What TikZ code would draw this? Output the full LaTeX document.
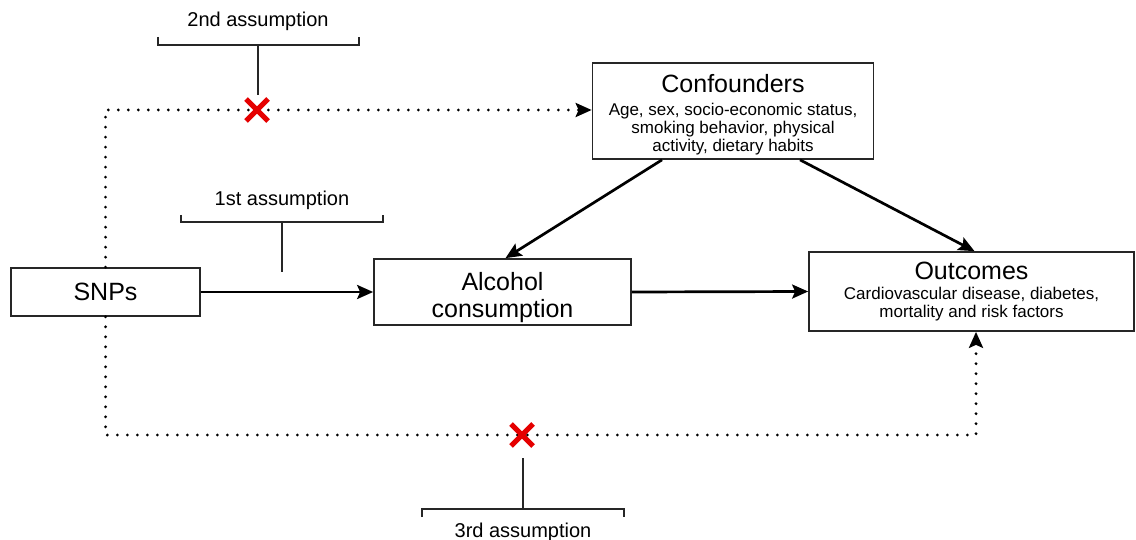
\documentclass[tikz,border=0pt]{standalone}
\usepackage{fontspec}
\setmainfont{Liberation Sans}
\usetikzlibrary{arrows.meta,shapes.misc}
\begin{document}
\begin{tikzpicture}[x=1pt,y=-1pt,
  box/.style={draw=black!85, line width=1.7pt, align=center, inner sep=0pt},
  arr/.style={line width=2.7pt, -{Stealth[length=16pt,width=14pt,inset=3pt]}},
  dotline/.style={line width=3.2pt, line cap=round, dash pattern=on 0pt off 10pt, -{Stealth[length=16pt,width=14pt,inset=3pt,sep=0pt]}},
  brk/.style={line width=2pt, draw=black!85},
  lbl/.style={font=\fontsize{20}{22}\selectfont, inner sep=0pt},
  xmark/.style={cross out, draw=red!90!black, line width=5pt, minimum size=17pt, inner sep=0pt}
]
\useasboundingbox (0,0) rectangle (1136,540);

% boxes
\node[box, minimum width=189pt, minimum height=48pt, font=\fontsize{25}{28}\selectfont] (snps) at (105.5,292) {SNPs};
\node[box, minimum width=257pt, minimum height=66pt, font=\fontsize{25}{27}\selectfont] (alc) at (502.5,292) {\rule{0pt}{30pt}Alcohol\\consumption};
\node[box, minimum width=281pt, minimum height=96pt, font=\fontsize{17}{18}\selectfont] (conf) at (733,111)
  {{\fontsize{25}{28}\selectfont\rule{0pt}{25pt}Confounders}\\[5pt]Age, sex, socio-economic status,\\smoking behavior, physical\\activity, dietary habits};
\node[box, minimum width=325pt, minimum height=79pt, font=\fontsize{17}{18}\selectfont] (outc) at (971.5,291.5)
  {{\fontsize{25}{28}\selectfont Outcomes}\\[2pt]Cardiovascular disease, diabetes,\\mortality and risk factors};

% solid arrows
\draw[arr] (snps.east) -- (alc.west);
\draw[arr] (alc.east) -- (outc.west);
\draw[arr] ([xshift=-71pt]conf.south) -- ([xshift=3pt]alc.north);
\draw[arr] ([xshift=67pt]conf.south) -- ([xshift=3pt]outc.north);

% dotted paths
\coordinate (tc) at (105.5,110);
\coordinate (bc) at (105.5,435);
\coordinate (br) at (976,435);
\draw[dotline] (snps.north) -- (tc) -- (tc -| conf.west);
\draw[dotline] (snps.south) -- (bc) -- (br) -- (br |- outc.south);

% red crosses
\node[xmark] (x2) at (257,110) {};
\node[xmark] (x3) at (522,435) {};

% 2nd assumption
\coordinate (s2a) at (258,45);
\coordinate (s2b) at (258,95);
\draw[brk] (158,37) -- (158,45) -- (359,45) -- (359,37);
\draw[brk] (s2a) -- (s2b);
\node[lbl] (l2) at (258,21) {2nd assumption};

% 1st assumption
\coordinate (s1a) at (282,222);
\coordinate (s1b) at (282,272);
\draw[brk] (181,215) -- (181,222) -- (383,222) -- (383,215);
\draw[brk] (s1a) -- (s1b);
\node[lbl] (l1) at (282,200) {1st assumption};

% 3rd assumption
\coordinate (s3a) at (523,458);
\coordinate (s3b) at (523,509);
\draw[brk] (s3a) -- (s3b);
\draw[brk] (422,517) -- (422,509) -- (624,509) -- (624,517);
\node[lbl] (l3) at (523,532) {3rd assumption};
\end{tikzpicture}
\end{document}
